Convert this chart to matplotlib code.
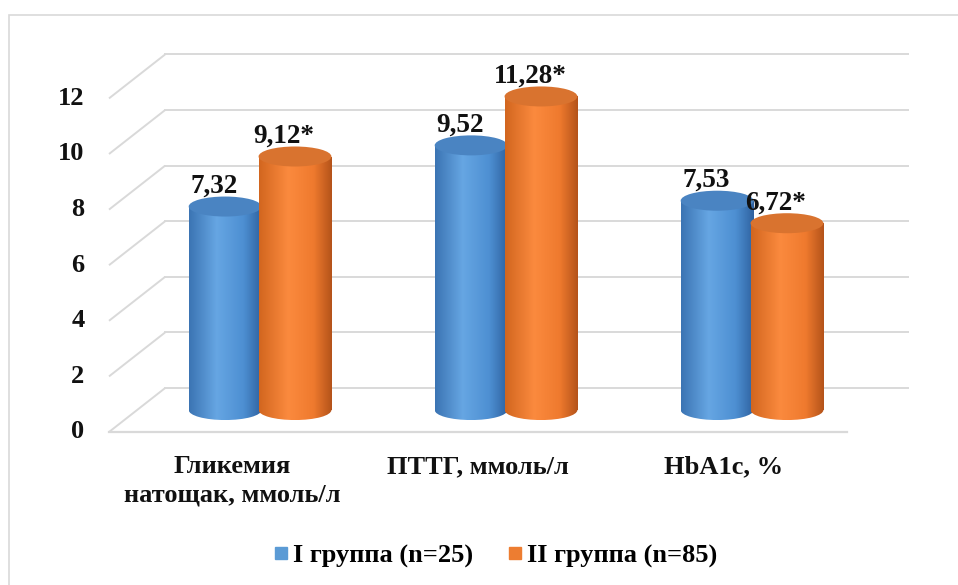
import numpy as np
import matplotlib
matplotlib.use("Agg")
import matplotlib.pyplot as plt
from matplotlib.patches import Ellipse, Rectangle
from matplotlib.lines import Line2D
from matplotlib.colors import LinearSegmentedColormap

# ---- data ----
categories = ["Гликемия\nнатощак, ммоль/л", "ПТТГ, ммоль/л", "HbA1c, %"]
group1_values = [7.32, 9.52, 7.53]
group2_values = [9.12, 11.28, 6.72]
group1_labels = ["7,32", "9,52", "7,53"]
group2_labels = ["9,12*", "11,28*", "6,72*"]
series_names = ["I группа (n=25)", "II группа (n=85)"]
y_ticks = [0, 2, 4, 6, 8, 10, 12]

plt.rcParams["font.family"] = ["Liberation Serif", "DejaVu Serif"]
plt.rcParams["font.weight"] = "bold"
FS = 19
TXT = "#111111"

fig = plt.figure(figsize=(9.58, 5.85), dpi=100)
fig.patch.set_facecolor("white")

# chart frame
fig.add_artist(Rectangle((9 / 958, -0.02), 1.0, (585 - 15) / 585 + 0.02,
                         transform=fig.transFigure, fill=False,
                         edgecolor="#d9d9d9", linewidth=1.2))

ax = fig.add_axes([0, 0, 1, 1])
ax.set_xlim(-232 / 246, (958 - 232) / 246)
ax.set_ylim((432 - 585) / 27.8, 432 / 27.8)
ax.axis("off")

# pseudo-3D geometry (depth offsets)
back_dx, back_dy = 0.228, 1.58
mid_dx, mid_dy = back_dx / 2, back_dy / 2
x_left, x_front_right = -0.5, 2.5
x_back_right = 2.748
grid_col = "#d9d9d9"

for v in y_ticks:
    # side wall slant + back wall gridline
    ax.plot([x_left, x_left + back_dx], [v, v + back_dy], color=grid_col, lw=1.4,
            solid_capstyle="butt", zorder=1)
    ax.plot([x_left + back_dx, x_back_right], [v + back_dy, v + back_dy],
            color=grid_col, lw=1.4, zorder=1)
    ax.text(-0.6, v, str(v), ha="right", va="center", fontsize=FS,
            fontweight="bold", color=TXT)
# floor front edge
ax.plot([x_left, x_front_right], [0, 0], color=grid_col, lw=1.6, zorder=1)

# category labels
for i, c in enumerate(categories):
    ax.text(i, -0.84, c, ha="center", va="top", fontsize=FS, fontweight="bold",
            color=TXT, linespacing=1.3)

# cylinder shading
blue_cmap = LinearSegmentedColormap.from_list(
    "b", [(0, "#3b74b3"), (0.38, "#66a6e3"), (0.75, "#4d8fd2"), (1, "#2f62a0")])
orange_cmap = LinearSegmentedColormap.from_list(
    "o", [(0, "#d2661f"), (0.4, "#fb8a3e"), (0.75, "#ef7a2e"), (1, "#b4531a")])
series = [
    (group1_values, group1_labels, blue_cmap, "#4a84c2", -0.142),
    (group2_values, group2_labels, orange_cmap, "#d9732f", 0.142),
]
bar_w = 0.296
cap_h = 0.36  # semi-height of the elliptical caps
grad = np.linspace(0, 1, 256).reshape(1, -1)

xs = np.arange(len(categories))
for s_idx, (vals, labs, cmap, cap_col, off) in enumerate(series):
    centers = xs + mid_dx + off
    z = 3 + s_idx * 3
    bars = ax.bar(centers, vals, width=bar_w, bottom=mid_dy, color="none",
                  edgecolor="none", zorder=z)
    for cx, v, lab, bar in zip(centers, vals, labs, bars):
        x0, x1 = cx - bar_w / 2, cx + bar_w / 2
        # bottom ellipse
        bot = Ellipse((cx, mid_dy), bar_w, 2 * cap_h, facecolor="none",
                      edgecolor="none", zorder=z)
        ax.add_patch(bot)
        im = ax.imshow(grad, cmap=cmap, aspect="auto",
                       extent=[x0, x1, mid_dy - cap_h, mid_dy + cap_h],
                       zorder=z, interpolation="bilinear")
        im.set_clip_path(bot)
        # body
        im2 = ax.imshow(grad, cmap=cmap, aspect="auto",
                        extent=[x0, x1, mid_dy, mid_dy + v],
                        zorder=z + 0.1, interpolation="bilinear")
        im2.set_clip_path(bar)
        # top cap
        ax.add_patch(Ellipse((cx, mid_dy + v), bar_w, 2 * cap_h,
                             facecolor=cap_col, edgecolor="none", zorder=z + 0.2))
        ax.text(cx - 0.045, mid_dy + v + cap_h + 0.13, lab, ha="center",
                va="baseline", fontsize=FS + 0.5, fontweight="bold", color=TXT,
                zorder=10)

# legend
handles = [Line2D([], [], marker="s", linestyle="none", markersize=8.6,
                  markerfacecolor=c, markeredgecolor=c)
           for c in ["#5b9bd5", "#ed7d31"]]
fig.legend(handles, series_names, loc="center", bbox_to_anchor=(0.517, 0.05),
           ncol=2, frameon=False, prop={"size": FS, "weight": "bold"},
           handlelength=0.6, handletextpad=0.15, columnspacing=1.3)

fig.savefig("out.png", dpi=100, facecolor="white")
